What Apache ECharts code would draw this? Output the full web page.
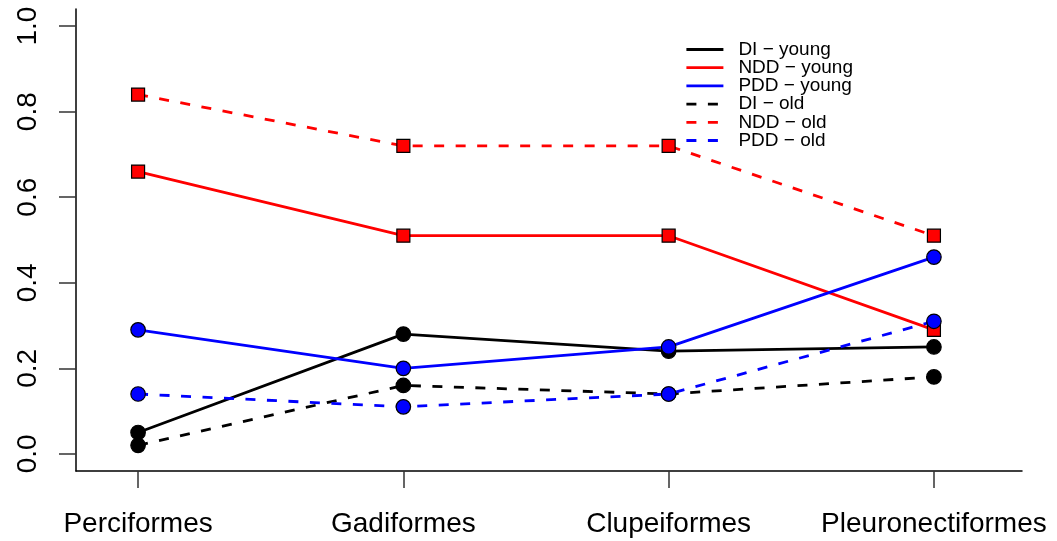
<!DOCTYPE html>
<html>
<head>
<meta charset="utf-8">
<script src="https://cdn.jsdelivr.net/npm/echarts@6/dist/echarts.min.js"></script>
<style>
  html, body { margin: 0; padding: 0; background: #fff; }
  #chart { width: 1057px; height: 541px; }
</style>
</head>
<body>
<div id="chart"></div>
<script>
// Orders of fish and the share of each density-dependence type
const categories = ['Perciformes', 'Gadiformes', 'Clupeiformes', 'Pleuronectiformes'];

const diYoung  = [0.05, 0.28, 0.24, 0.25];
const nddYoung = [0.66, 0.51, 0.51, 0.29];
const pddYoung = [0.29, 0.20, 0.25, 0.46];
const diOld    = [0.02, 0.16, 0.14, 0.18];
const nddOld   = [0.84, 0.72, 0.72, 0.51];
const pddOld   = [0.14, 0.11, 0.14, 0.31];

const yTicks = [0, 0.2, 0.4, 0.6, 0.8, 1.0];
const xTicks = [1, 2, 3, 4];

const FONT = '"Liberation Sans", Arial, Helvetica, sans-serif';

function toPoints(values) {
  return values.map((v, i) => [i + 1, v]);
}

function makeSeries(name, values, color, dashed, symbol) {
  return {
    name: name,
    type: 'line',
    data: toPoints(values),
    symbol: symbol,
    symbolSize: symbol === 'rect' ? 13 : 14.5,
    showSymbol: true,
    lineStyle: {
      color: color,
      width: 2.8,
      type: dashed ? [10, 11.5] : 'solid',
      cap: 'butt'
    },
    itemStyle: {
      color: color,
      borderColor: '#000',
      borderWidth: 1.2
    },
    emphasis: { disabled: true },
    animation: false
  };
}

const chart = echarts.init(document.getElementById('chart'), null, { renderer: 'canvas' });

chart.setOption({
  backgroundColor: '#fff',
  animation: false,
  grid: { left: 76, right: 35, top: 9, bottom: 70, containLabel: false },
  xAxis: {
    type: 'value',
    min: 0.766,
    max: 4.332,
    axisLine: { show: true, onZero: false, lineStyle: { color: '#000', width: 1.5 } },
    axisTick: {
      show: true, length: 17, inside: false,
      customValues: xTicks,
      lineStyle: { color: '#333', width: 1.5 }
    },
    axisLabel: {
      customValues: xTicks,
      margin: 39,
      color: '#000',
      fontSize: 28,
      fontFamily: FONT,
      formatter: v => categories[Math.round(v) - 1] || ''
    },
    splitLine: { show: false }
  },
  yAxis: {
    type: 'value',
    min: -0.04,
    max: 1.04,
    axisLine: { show: true, onZero: false, lineStyle: { color: '#000', width: 1.5 } },
    axisTick: {
      show: true, length: 17, inside: false,
      customValues: yTicks,
      lineStyle: { color: '#333', width: 1.5 }
    },
    axisLabel: {
      customValues: yTicks,
      rotate: 90,
      margin: 34,
      color: '#000',
      fontSize: 28,
      fontFamily: FONT,
      formatter: v => v.toFixed(1)
    },
    splitLine: { show: false }
  },
  legend: {
    show: true,
    orient: 'vertical',
    left: 685,
    top: 40,
    padding: 0,
    itemWidth: 37,
    itemHeight: 14,
    itemGap: -0.8,
    selectedMode: false,
    itemStyle: { opacity: 0 },
    lineStyle: { width: 2.8 },
    textStyle: {
      color: '#000',
      fontSize: 19,
      fontFamily: FONT,
      lineHeight: 18.2,
      padding: [0, 0, 0, 10]
    },
    data: ['DI \u2212 young', 'NDD \u2212 young', 'PDD \u2212 young', 'DI \u2212 old', 'NDD \u2212 old', 'PDD \u2212 old']
  },
  series: [
    makeSeries('DI \u2212 young',  diYoung,  '#000000', false, 'circle'),
    makeSeries('NDD \u2212 young', nddYoung, '#ff0000', false, 'rect'),
    makeSeries('PDD \u2212 young', pddYoung, '#0000ff', false, 'circle'),
    makeSeries('DI \u2212 old',    diOld,    '#000000', true,  'circle'),
    makeSeries('NDD \u2212 old',   nddOld,   '#ff0000', true,  'rect'),
    makeSeries('PDD \u2212 old',   pddOld,   '#0000ff', true,  'circle')
  ]
});
</script>
</body>
</html>
